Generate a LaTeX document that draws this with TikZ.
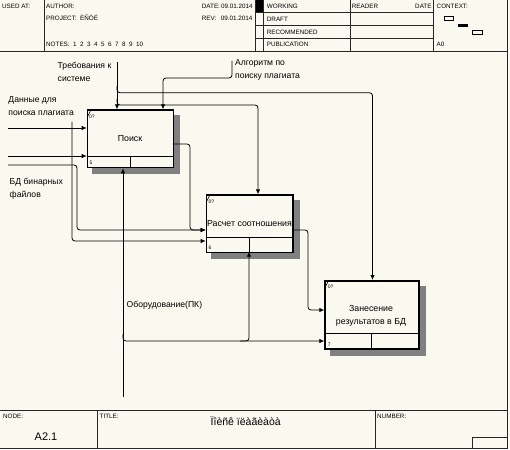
\documentclass[tikz,border=0pt]{standalone}
\usepackage{fontspec}
\setmainfont{Liberation Sans}
\usetikzlibrary{arrows.meta,calc}
\pgfdeclarelayer{background}
\pgfdeclarelayer{back0}
\pgfsetlayers{back0,background,main}
\definecolor{bg}{RGB}{250,249,239}
\begin{document}
\begin{tikzpicture}[x=1pt,y=-1pt,
 frame/.style={draw=black!85,line width=0.8pt},
 box/.style={draw=black,line width=1.6pt,fill=bg,inner sep=0pt,anchor=north west},
 comp/.style={draw=black,line width=1pt},
 conn/.style={draw=black,line width=0.8pt,rounded corners=3pt},
 arr/.style={conn,-{Latex[length=5pt,width=4.5pt]}},
 hdr/.style={font=\fontsize{6.3}{7}\selectfont,anchor=base west,inner sep=0pt},
 lbl/.style={font=\fontsize{8.6}{10}\selectfont,anchor=base west,inner sep=0pt},
 btxt/.style={font=\fontsize{8.8}{10}\selectfont,anchor=base,inner sep=0pt},
 tinyt/.style={font=\fontsize{5}{5}\selectfont,anchor=base west,inner sep=0pt},
 shade/.style={fill=black!50}]
\begin{pgfonlayer}{back0}
\fill[bg] (0,0) rectangle (510,449);
\end{pgfonlayer}
\useasboundingbox (0,0) rectangle (510,449);

% ---------- header ----------
\fill[black] (255,0) rectangle (263,12.7);
\draw[frame] (0,51) -- (508,51);
\draw[frame] (44,0) -- (44,51);
\draw[frame] (255,0) -- (255,51);
\draw[frame] (263,0) -- (263,51);
\draw[frame] (350,0) -- (350,51);
\draw[frame] (433,0) -- (433,51);
\draw[frame] (255,12.7) -- (433,12.7);
\draw[frame] (255,25.5) -- (433,25.5);
\draw[frame] (255,38.3) -- (433,38.3);
\draw[frame] (507.5,0) -- (507.5,449);

\node[hdr] (usedat) at (2,8.7) {USED AT:};
\node[hdr] (author) at (46,8.7) {AUTHOR:};
\node[hdr] (project) at (46,21) {PROJECT:\ \ ÈÑÖÉ};
\node[hdr] (notes) at (46,47) {NOTES:\ \ 1\ \ 2\ \ 3\ \ 4\ \ 5\ \ 6\ \ 7\ \ 8\ \ 9\ \ 10};
\node[hdr] (date) at (201.7,8.7) {DATE:\,09.01.2014};
\node[hdr] (rev) at (201.7,21) {REV:\ \ \,09.01.2014};
\node[hdr] (working) at (266.7,8.7) {WORKING};
\node[hdr] (draft) at (266.7,21.7) {DRAFT};
\node[hdr] (recom) at (266.7,35) {RECOMMENDED};
\node[hdr] (publ) at (266.7,47) {PUBLICATION};
\node[hdr] (reader) at (351.7,8.7) {READER};
\node[hdr] (rdate) at (415,8.7) {DATE};
\node[hdr] (context) at (436.5,8.7) {CONTEXT:};
\node[hdr] (a0) at (436.5,47) {A0};
\draw[line width=0.7pt] (444.3,16.3) rectangle (453.3,20);
\fill[black] (458.3,24.3) rectangle (468.3,26.9);
\draw[line width=0.7pt] (472.3,30) rectangle (482.3,34.3);

% ---------- footer ----------
\draw[frame] (0,410.7) -- (508,410.7);
\draw[frame] (97,410.7) -- (97,448);
\draw[frame] (375,410.7) -- (375,448);
\draw[frame] (0,448) -- (508,448);
\draw[frame] (472,437) rectangle (507.5,448);
\node[hdr] (nodel) at (3,418) {NODE:};
\node[hdr] (titlel) at (99.5,418) {TITLE:};
\node[hdr] (numberl) at (377,418) {NUMBER:};
\node[font=\fontsize{11}{12}\selectfont,anchor=base,inner sep=0pt] (nodeno) at (46,440) {A2.1};
\node[font=\fontsize{10.5}{12}\selectfont,anchor=base,inner sep=0pt] (title) at (245.7,425) {Ïîèñê ïëàãèàòà};

% ---------- boxes ----------
\node[box,minimum width=86pt,minimum height=57.4pt] (b1) at (86.7,109.3) {};
\node[box,minimum width=86.6pt,minimum height=57.4pt] (b2) at (205.7,194.3) {};
\node[box,minimum width=94pt,minimum height=68.3pt] (b3) at (324.3,280) {};
\begin{pgfonlayer}{background}
 \foreach \b in {b1,b2,b3}{
  \fill[shade] ($(\b.north east)+(0,6)$) rectangle ($(\b.south east)+(6,6)$);
  \fill[shade] ($(\b.south west)+(5.5,0)$) rectangle ($(\b.south east)+(6,6)$);
 }
\end{pgfonlayer}
\draw[comp] (86.7,156.7) -- (172.7,156.7) (130,156.7) -- (130,166.7);
\draw[comp] (205.7,237.3) -- (292.3,237.3) (249,237.3) -- (249,251.7);
\draw[comp] (324.3,333.3) -- (418.3,333.3) (371.5,333.3) -- (371.5,348.3);
\foreach \b in {b1,b2,b3}{
 \draw[line width=0.6pt] ($(\b.north west)+(0.5,8)$) -- ($(\b.north west)+(4,1)$);
}
\node[tinyt] (q1) at (89,118.5) {0?};
\node[tinyt] (q2) at (208.3,203.5) {0?};
\node[tinyt] (q3) at (327.7,288) {0?};
\node[tinyt] (n1) at (89.3,164.3) {5};
\node[tinyt] (n2) at (208.3,249.3) {6};
\node[tinyt] (n3) at (327.7,346.3) {7};
\node[btxt] (t1) at (130,141) {Поиск};
\node[btxt] (t2) at (249.5,226) {Расчет соотношения};
\node[btxt] (t3a) at (371,311) {Занесение};
\node[btxt] (t3b) at (371,324.5) {результатов в БД};

% ---------- labels ----------
\node[lbl] (lreq1) at (57.5,68.5) {Требования к};
\node[lbl] (lreq2) at (57.5,81.5) {системе};
\node[lbl] (lalg1) at (235,65.5) {Алгоритм по};
\node[lbl] (lalg2) at (235,79) {поиску плагиата};
\node[lbl] (ldat1) at (8.3,102.5) {Данные для};
\node[lbl] (ldat2) at (8.3,116) {поиска плагиата};
\node[lbl] (lbd1) at (9.5,184) {БД бинарных};
\node[lbl] (lbd2) at (9.5,197) {файлов};
\node[lbl] (lmech) at (126.5,307) {Оборудование(ПК)};

% ---------- connectors ----------
\coordinate (req) at (117,62);
\coordinate (alg) at (232,61);
\coordinate (inD) at (8,128);
\coordinate (in2) at (8,156);
\coordinate (in3) at (8,165);
\coordinate (mech) at (123,397);

% controls
\draw[arr] (req) -- (req |- b1.north);
\draw[arr] (117,86) -- (117,92.7) -- (372.5,92.7) -- (372.5,280);
\draw[arr] (117,99) -- (117,105) -- (258,105) -- (258,194.3);
\draw[arr] (alg) -- (232,78) -- (163,78) -- (163,109.3);

% inputs
\draw[arr] (inD) -- (inD -| b1.west);
\draw[arr] (72,122) -- (72,128) -- (72,241) -- (205.7,241);
\draw[arr] (in2) -- (in2 -| b1.west);
\draw[arr] (in3) -- (77,165) -- (77,230) -- (205.7,230);

% outputs
\draw[arr] (172.7,144) -- (190,144) -- (190,230) -- (205.7,230);
\draw[arr] (292.3,230) -- (308,230) -- (308,310) -- (324.3,310);

% mechanisms
\draw[arr] (mech) -- (mech |- b1.south);
\draw[arr] (123,334) -- (123,341) -- (324.3,341);
\draw[arr] (240,341) -- (249,341) -- (249,251.7);
\end{tikzpicture}
\end{document}
